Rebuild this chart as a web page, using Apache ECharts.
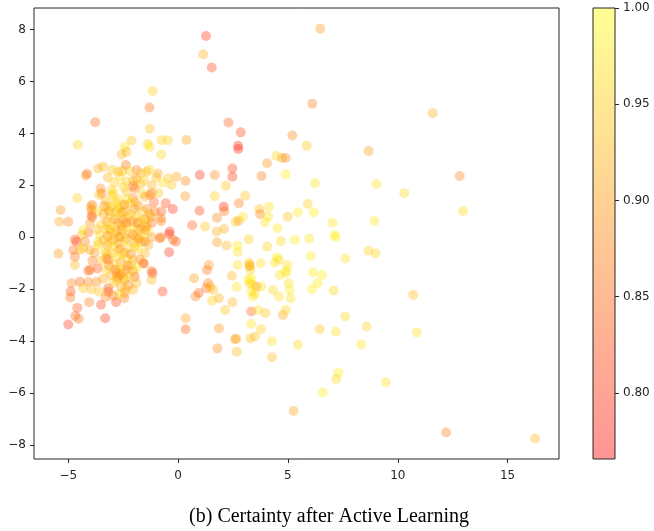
<!DOCTYPE html>
<html>
<head>
<meta charset="utf-8">
<script src="https://cdn.jsdelivr.net/npm/echarts@6/dist/echarts.min.js"></script>
<style>
html,body{margin:0;padding:0;background:#fff;}
#chart{width:654px;height:531px;}
</style>
</head>
<body>
<div id="chart"></div>
<script>
// [x, y, certainty]
const pointsOuter = [
  [1.27,7.75,0.80],[1.14,7.05,0.92],[1.53,6.54,0.82],[6.47,8.03,0.90],[2.29,4.42,0.84],
  [2.85,4.04,0.82],[6.11,5.14,0.87],[5.20,3.92,0.88],[0.38,3.75,0.91],[2.73,3.52,0.80],
  [2.74,3.40,0.79],[4.05,2.85,0.89],[4.47,3.13,0.96],[4.73,3.05,0.91],[4.90,3.05,0.88],
  [5.86,3.52,0.94],[4.90,2.43,0.98],[6.23,2.08,0.97],[2.47,2.65,0.82],[2.47,2.33,0.81],
  [3.80,2.36,0.87],[0.99,2.40,0.80],[1.67,2.40,0.88],[0.34,2.17,0.88],[2.18,1.98,0.94],
  [3.06,1.60,0.94],[1.67,1.58,0.95],[0.32,1.58,0.90],[0.97,1.02,0.82],[2.08,1.18,0.79],
  [2.10,1.00,0.86],[2.77,1.31,0.87],[0.64,0.46,0.84],[1.23,0.41,0.94],[1.77,0.75,0.88],
  [1.76,0.22,0.92],[2.09,0.32,0.92],[2.62,0.60,0.94],[2.76,0.64,0.91],[2.95,0.79,0.97],
  [1.77,-0.19,0.90],[2.21,-0.32,0.93],[2.71,-0.32,0.98],[3.21,-0.08,0.95],[3.70,1.09,0.94],
  [3.73,0.90,0.88],[4.14,1.18,0.97],[4.10,0.80,0.97],[3.96,0.58,0.97],[4.06,-0.36,0.95],
  [4.52,0.35,0.98],[4.68,-0.15,0.96],[4.99,0.79,0.94],[5.32,-0.10,0.98],[5.45,0.96,0.98],
  [5.90,1.28,0.95],[6.17,0.96,0.98],[5.97,-0.05,0.97],[6.03,-0.72,0.98],[11.59,4.78,0.92],
  [8.67,3.32,0.90],[9.03,2.05,0.97],[10.30,1.70,0.96],[12.82,2.36,0.88],[12.97,1.01,0.96],
  [7.02,0.56,0.97],[7.12,0.09,0.99],[7.17,0.00,0.98],[8.94,0.63,0.97],[8.67,-0.52,0.95],
  [8.99,-0.62,0.96],[7.61,-0.82,0.97],[6.56,-1.45,0.98],[6.35,-1.77,0.98],[7.08,-2.05,0.96],
  [10.70,-2.22,0.93],[7.61,-3.05,0.96],[6.45,-3.54,0.94],[7.18,-3.63,0.97],[8.58,-3.44,0.95],
  [10.86,-3.67,0.97],[8.34,-4.13,0.97],[7.30,-5.22,0.98],[7.20,-5.46,0.96],[9.46,-5.58,0.97],
  [6.58,-5.98,0.98],[12.20,-7.52,0.87],[16.25,-7.75,0.93],[6.15,-1.36,0.98],[6.09,-1.99,0.98],
  [2.71,-0.57,0.97],[5.26,-6.69,0.91]
];
const pointsMiddle = [
  [0.73,-1.58,0.90],[0.79,-2.28,0.88],[0.94,-2.15,0.84],[1.29,-1.96,0.86],[1.36,-1.77,0.87],
  [1.32,-1.26,0.86],[1.40,-1.07,0.89],[1.47,-1.90,0.92],[1.55,-2.44,0.96],[1.86,-2.35,0.92],
  [2.14,-2.80,0.94],[2.47,-2.50,0.93],[2.67,-1.91,0.97],[2.45,-1.48,0.93],[2.71,-1.07,0.97],
  [0.34,-3.12,0.91],[0.34,-3.54,0.84],[1.86,-3.51,0.89],[1.79,-4.28,0.88],[2.59,-3.92,0.89],
  [2.65,-3.92,0.92],[2.67,-4.41,0.93],[3.26,-1.07,0.94],[3.29,-1.26,0.96],[3.26,-1.77,0.95],
  [3.33,-1.60,0.98],[3.56,-1.90,0.88],[3.33,-2.09,0.98],[3.41,-2.28,0.97],[3.79,-1.90,0.97],
  [3.76,-1.00,0.97],[3.33,-2.86,0.84],[3.64,-2.80,0.97],[3.97,-2.92,0.94],[3.33,-3.33,0.97],
  [3.77,-3.54,0.95],[3.29,-3.90,0.93],[3.50,-3.82,0.94],[4.27,-4.01,0.97],[4.27,-4.62,0.93],
  [5.45,-4.14,0.96],[4.32,-2.03,0.96],[4.59,-2.28,0.97],[4.77,-2.99,0.91],[4.90,-2.80,0.96],
  [5.12,-2.35,0.97],[5.03,-1.77,0.97],[5.08,-2.03,0.98],[4.93,-1.29,0.99],[4.90,-1.38,0.97],
  [4.62,-1.45,0.97],[4.50,-0.77,0.98],[4.58,-0.87,0.97],[4.40,-0.98,0.97],[4.97,-1.07,0.97],
  [3.49,-2.18,0.97],[3.23,-0.98,0.94],[3.26,-1.12,0.91],[1.59,-2.03,0.93],[3.18,-1.64,0.98],
  [3.38,-1.83,0.97]
];
const pointsClusterTop = [
  [-1.16,5.63,0.95],[-1.30,5.00,0.85],[-3.77,4.43,0.85],[-1.29,4.18,0.94],[-4.57,3.56,0.95],
  [-2.12,3.73,0.94],[-1.38,3.59,0.96],[-1.30,3.48,0.97],[-0.75,3.74,0.95],[-0.47,3.74,0.95],
  [-0.77,3.19,0.96],[-2.42,3.48,0.97],[-2.57,3.19,0.92],[-2.35,3.29,0.93],[-4.20,2.38,0.88],
  [-4.14,2.45,0.87],[-3.64,2.65,0.92],[-3.41,2.72,0.93],[-2.38,2.78,0.86],[-2.55,2.55,0.93],
  [-2.73,2.52,0.93],[-2.65,2.33,0.96],[-2.35,2.14,0.95],[-2.05,2.20,0.93],[-1.89,2.59,0.87],
  [-1.70,2.46,0.94],[-1.32,2.59,0.96],[-1.00,2.30,0.94],[-0.92,2.46,0.91],[-0.71,2.10,0.97],
  [-0.45,2.27,0.94],[-0.07,2.33,0.91],[-0.30,2.01,0.94],[-1.44,2.52,0.93],[-4.59,1.51,0.95],
  [-5.35,1.05,0.90],[-5.41,0.60,0.91],[-5.00,0.60,0.88],[-3.53,1.88,0.88],[-3.48,1.69,0.86],
  [-3.59,1.63,0.94],[-3.03,1.82,0.96],[-3.00,1.60,0.96],[-2.95,1.69,0.95],[-2.70,1.46,0.95],
  [-2.35,1.75,0.93],[-2.05,1.97,0.86],[-1.97,1.88,0.87],[-2.05,1.50,0.88],[-1.64,1.69,0.96],
  [-1.51,1.56,0.91],[-1.29,1.63,0.88],[-1.20,1.70,0.88],[-1.10,1.35,0.84],[-0.56,1.31,0.82],
  [-0.24,1.09,0.80],[-0.76,0.99,0.84],[-1.06,0.99,0.87],[-0.79,0.73,0.88],[-0.77,0.62,0.88],
  [-1.21,0.79,0.90],[-0.38,0.22,0.81],[-0.41,0.12,0.80],[-0.23,-0.10,0.86],[-0.10,-0.17,0.84],
  [-0.83,-0.04,0.85],[-0.79,0.00,0.88],[-0.41,-0.58,0.80],[-1.44,0.41,0.87],[-1.51,0.28,0.86],
  [-1.36,0.22,0.97],[-1.89,0.02,0.97],[-1.67,-0.17,0.94],[-1.51,-0.17,0.85],[-3.98,1.18,0.92],
  [-3.91,1.24,0.87],[-3.94,1.05,0.88],[-3.94,0.86,0.87],[-3.91,0.77,0.84],[-3.64,0.99,0.96],
  [-3.21,1.14,0.97],[-2.73,1.11,0.95],[-3.25,0.60,0.88],[-2.88,0.41,0.97],[-2.57,0.28,0.85],
  [-2.50,0.67,0.87],[-3.10,0.28,0.88],[-3.56,0.09,0.97],[-4.09,0.18,0.85],[-4.39,0.09,0.93],
  [-4.32,0.28,0.97],[-4.01,0.54,0.90],[-3.18,0.41,0.97],
  [-2.90,2.10,0.95],[-3.20,2.30,0.92],[-2.50,1.95,0.96],[-1.70,2.05,0.93],[-1.20,2.00,0.92],
  [-0.90,1.70,0.94],[-3.30,1.40,0.93],[-2.30,1.45,0.97]
];
const pointsClusterBottom = [
  [-4.70,-0.10,0.82],[-4.62,-0.17,0.83],[-5.45,-0.63,0.90],[-4.77,-0.49,0.86],[-4.47,-0.49,0.93],
  [-4.70,-0.75,0.86],[-4.70,-1.07,0.93],[-4.24,-0.17,0.88],[-4.32,-0.42,0.94],[-4.01,-0.49,0.90],
  [-3.64,-0.20,0.95],[-3.64,-0.30,0.96],[-3.22,-0.30,0.89],[-3.33,-0.55,0.97],[-3.18,-0.87,0.84],
  [-3.26,-0.81,0.88],[-4.09,-1.29,0.83],[-4.00,-1.25,0.86],[-3.66,-1.20,0.83],[-3.26,-1.26,0.96],
  [-2.80,-1.38,0.88],[-2.35,-1.26,0.88],[-1.97,-1.52,0.84],[-1.59,-1.00,0.90],[-1.56,-1.01,0.83],
  [-1.21,-1.30,0.86],[-1.16,-1.39,0.82],[-1.51,-0.62,0.93],[-2.05,-0.87,0.94],[-2.57,-0.62,0.96],
  [-3.18,-1.96,0.83],[-3.18,-2.10,0.84],[-2.80,-1.64,0.96],[-2.42,-1.64,0.93],[-1.89,-1.77,0.93],
  [-4.09,-1.71,0.88],[-3.71,-1.71,0.88],[-4.85,-1.77,0.88],[-4.47,-1.71,0.85],[-4.89,-2.09,0.83],
  [-4.91,-2.32,0.86],[-4.32,-1.96,0.94],[-3.94,-2.00,0.93],[-4.05,-2.50,0.87],[-4.59,-2.72,0.83],
  [-4.68,-3.03,0.85],[-4.53,-3.14,0.86],[-5.00,-3.36,0.80],[-3.51,-2.60,0.82],[-3.32,-3.12,0.80],
  [-2.82,-2.50,0.82],[-2.45,-2.35,0.87],[-2.05,-2.03,0.93],[-2.50,-1.58,0.94],[-2.65,-1.45,0.87],
  [-2.42,-2.15,0.90],[-0.71,-2.09,0.81],[-1.21,-1.64,0.93]
];
const pointsCore = [
  [-3.00,1.20,0.95],[-2.80,1.00,0.93],[-2.60,1.20,0.97],[-2.40,1.00,0.92],[-2.20,1.30,0.96],
  [-2.00,1.10,0.90],[-1.80,1.20,0.89],[-1.60,1.00,0.95],[-1.40,1.10,0.88],[-1.30,0.90,0.92],
  [-3.10,0.80,0.96],[-2.90,0.70,0.90],[-2.70,0.85,0.97],[-2.30,0.75,0.95],[-2.10,0.60,0.88],
  [-1.90,0.80,0.94],[-1.70,0.65,0.97],[-1.50,0.70,0.89],[-1.20,0.55,0.86],[-3.30,0.30,0.94],
  [-3.00,0.10,0.97],[-2.80,0.20,0.92],[-2.60,0.05,0.96],[-2.40,0.35,0.98],[-2.20,0.15,0.93],
  [-2.00,0.40,0.97],[-1.80,0.30,0.91],[-1.60,0.00,0.96],[-1.20,0.00,0.90],[-3.40,-0.10,0.93],
  [-3.10,-0.20,0.96],[-2.90,-0.35,0.98],[-2.70,-0.25,0.91],[-2.45,-0.15,0.97],[-2.25,-0.40,0.95],
  [-2.00,-0.20,0.92],[-1.80,-0.45,0.97],[-1.35,-0.30,0.92],[-3.00,-0.60,0.94],[-2.80,-0.75,0.97],
  [-2.60,-0.95,0.90],[-2.35,-0.80,0.96],[-2.15,-1.05,0.93],[-1.90,-1.20,0.97],[-1.75,-0.85,0.89],
  [-2.90,-1.05,0.95],[-3.05,-1.45,0.92],[-2.65,-1.20,0.97],[-2.20,-1.50,0.95],[-2.95,-1.75,0.94],
  [-2.60,-1.90,0.91],[-2.25,-1.85,0.88],[-3.40,0.90,0.91],[-3.50,0.50,0.95],[-3.70,0.30,0.93],
  [-3.80,-0.60,0.90],[-3.50,-0.90,0.93],[-3.90,-0.90,0.87],[-3.40,-1.60,0.91],[-3.60,-2.10,0.94],
  [-3.30,-2.30,0.88],[-2.95,-2.25,0.86]
];
const pointsCoreExtra = [
  [-2.75,0.55,0.89],[-2.55,0.45,0.93],[-2.35,0.55,0.87],[-2.15,0.90,0.94],[-1.95,1.35,0.92],
  [-2.45,1.25,0.88],[-2.85,1.35,0.96],[-3.15,1.00,0.90],[-2.65,-0.45,0.89],[-2.45,-0.60,0.92],
  [-2.15,-0.65,0.88],[-1.95,-0.35,0.95],[-2.05,0.10,0.89],[-2.35,-0.05,0.90],[-2.70,0.00,0.88],
  [-2.95,-0.10,0.92],[-3.20,0.05,0.90],[-3.25,-0.65,0.93],[-2.75,-1.55,0.90],[-2.50,-1.35,0.92],
  [-2.30,-1.10,0.89],[-2.05,-1.30,0.91],[-1.80,-0.05,0.88],[-1.65,0.35,0.93],[-1.45,0.60,0.96],
  [-1.85,0.55,0.87],[-2.55,0.95,0.91],[-3.35,1.20,0.89],[-2.85,-1.25,0.87],[-3.15,-1.10,0.90],
  [-2.40,-2.00,0.93],[-2.70,-2.20,0.95],[-3.00,2.60,0.94],[-2.20,2.55,0.95],[-1.90,2.25,0.91],
  [-1.55,2.20,0.95]
];
const allPoints = [].concat(pointsOuter, pointsMiddle, pointsClusterTop, pointsClusterBottom, pointsCore, pointsCoreExtra);

const xTicks = [-5, 0, 5, 10, 15];
const yTicks = [-8, -6, -4, -2, 0, 2, 4, 6, 8];
const cbTicks = [0.80, 0.85, 0.90, 0.95, 1.00];
const cbMin = 0.7656, cbMax = 1.0;
const caption = '(b) Certainty after Active Learning';

const axisColor = '#262626';
const labelStyle = {color: axisColor, fontSize: 12, fontFamily: 'DejaVu Sans'};
const fmtNum = v => (v < 0 ? '\u2212' + Math.abs(v) : String(v));

const chart = echarts.init(document.getElementById('chart'), null, {renderer: 'canvas'});
chart.setOption({
  animation: false,
  backgroundColor: '#fff',
  title: {
    text: caption, left: 329, top: 507, textAlign: 'center', padding: 0,
    textStyle: {fontFamily: 'Liberation Serif', fontSize: 20, fontWeight: 'normal', color: '#000'}
  },
  grid: [
    {left: 34, top: 8, width: 525, height: 451, show: true, borderColor: axisColor, borderWidth: 1, backgroundColor: 'transparent', containLabel: false},
    {left: 593, top: 8, width: 22, height: 451, show: true, borderColor: axisColor, borderWidth: 1, backgroundColor: 'transparent', z: 10}
  ],
  xAxis: [
    {type: 'value', gridIndex: 0, min: -6.56, max: 17.34, position: 'bottom',
     axisLine: {show: false, onZero: false}, splitLine: {show: false},
     axisTick: {show: true, inside: false, length: 4, customValues: xTicks, lineStyle: {color: axisColor}},
     axisLabel: {customValues: xTicks, margin: 11, formatter: fmtNum, ...labelStyle}},
    {type: 'value', gridIndex: 1, min: 0, max: 1, show: false}
  ],
  yAxis: [
    {type: 'value', gridIndex: 0, min: -8.54, max: 8.83, position: 'left',
     axisLine: {show: false, onZero: false}, splitLine: {show: false},
     axisTick: {show: true, inside: false, length: 4, customValues: yTicks, lineStyle: {color: axisColor}},
     axisLabel: {customValues: yTicks, margin: 8, formatter: fmtNum, ...labelStyle}},
    {type: 'value', gridIndex: 1, min: cbMin, max: cbMax, position: 'right',
     axisLine: {show: false, onZero: false}, splitLine: {show: false},
     axisTick: {show: true, inside: false, length: 4, customValues: cbTicks, lineStyle: {color: axisColor}},
     axisLabel: {customValues: cbTicks, margin: 8, formatter: v => v.toFixed(2), ...labelStyle}}
  ],
  visualMap: {
    type: 'continuous', min: cbMin, max: cbMax, dimension: 2, seriesIndex: 0,
    orient: 'vertical', left: 593, top: 8, itemWidth: 22, itemHeight: 451,
    padding: 0, calculable: false, hoverLink: false, realtime: false, showLabel: false, text: null,
    inRange: {color: ['rgba(255,0,0,0.42)', 'rgba(255,255,0,0.42)']},
    outOfRange: {color: ['rgba(255,255,255,0)']}
  },
  series: [{
    type: 'scatter', xAxisIndex: 0, yAxisIndex: 0,
    symbol: 'circle', symbolSize: 10,
    itemStyle: {borderWidth: 0},
    data: allPoints,
    silent: true
  }]
});
</script>
</body>
</html>
